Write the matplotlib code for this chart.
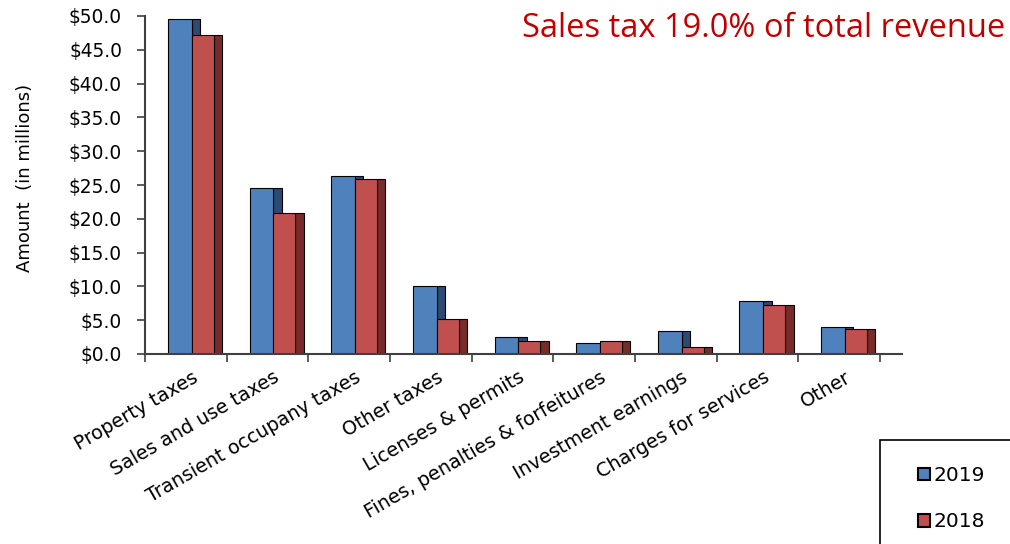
"""Revenue by source, 2019 vs 2018, drawn as faux-3D bars."""

import matplotlib.pyplot as plt
from matplotlib.patches import Rectangle, Patch
from matplotlib.ticker import FuncFormatter

categories = ['Property taxes', 'Sales and use taxes', 'Transient occupany taxes',
              'Other taxes', 'Licenses & permits', 'Fines, penalties & forfeitures',
              'Investment earnings', 'Charges for services', 'Other']
values_2019 = [49.6, 24.6, 26.3, 10.0, 2.5, 1.6, 3.4, 7.8, 4.0]
values_2018 = [47.2, 20.8, 25.9, 5.2, 1.9, 1.9, 1.1, 7.2, 3.7]
y_ticks = [0, 5, 10, 15, 20, 25, 30, 35, 40, 45, 50]

blue, blue_side = '#4F81BD', '#2D4A70'
red, red_side = '#C0504D', '#772C2A'

# DejaVu is a bit wider than Arial, which suits the horizontally stretched reference text
plt.rcParams['font.family'] = ['DejaVu Sans']

fig = plt.figure(figsize=(10.10, 5.44), dpi=100)
ax = fig.add_axes([145 / 1010, 1 - 354 / 544, 757 / 1010, 338 / 544])

# bar geometry inside each category slot (slot width = 1)
w = 0.29
depth = 0.105
for i, (v19, v18) in enumerate(zip(values_2019, values_2018)):
    x19 = i + 0.28
    x18 = x19 + w
    # side faces first, front faces on top
    ax.add_patch(Rectangle((x19 + w, 0), depth, v19, facecolor=blue_side, edgecolor='black', lw=0.8))
    ax.add_patch(Rectangle((x19, 0), w, v19, facecolor=blue, edgecolor='black', lw=0.8))
    ax.add_patch(Rectangle((x18 + w - 0.02, 0), depth, v18, facecolor=red_side, edgecolor='black', lw=0.8))
    ax.add_patch(Rectangle((x18, 0), w - 0.02, v18, facecolor=red, edgecolor='black', lw=0.8))

ax.set_xlim(0, 9.27)
ax.set_ylim(0, 50)

ax.set_yticks(y_ticks)
ax.yaxis.set_major_formatter(FuncFormatter(lambda v, p: f'${v:.1f}'))
ax.set_xticks(range(len(categories) + 1))
ax.set_xticklabels([])
ax.tick_params(axis='both', direction='out', length=5.5, width=1.2, color='#404040', labelsize=13.4)
ax.tick_params(axis='y', pad=11)

for sp in ['top', 'right']:
    ax.spines[sp].set_visible(False)
for sp in ['left', 'bottom']:
    ax.spines[sp].set_color('#404040')
    ax.spines[sp].set_linewidth(1.5)

# rotated category labels, anchored at slot centres
for i, cat in enumerate(categories):
    ax.annotate(cat, xy=(i + 0.5, 0), xytext=(4, -10), textcoords='offset points',
                rotation=30, rotation_mode='anchor', ha='right', va='top', fontsize=13.8)

ax.set_ylabel('Amount  (in millions)', fontsize=13)
ax.yaxis.set_label_coords(-0.146, 0.52)

fig.text(0.995, 1 - 37 / 544, 'Sales tax 19.0% of total revenue', color='#C00000',
         fontsize=23.5, family=['Open Sans', 'DejaVu Sans'], ha='right', va='baseline')

# legend box runs off the bottom-right edge of the figure
fig.patches.append(Rectangle((880 / 1010, -0.1), 0.2, 0.1 + 104 / 544, transform=fig.transFigure,
                             facecolor='white', edgecolor='black', lw=1.2, clip_on=False))
handles = [Patch(facecolor=blue, edgecolor='black', lw=1.5, label='2019'),
           Patch(facecolor=red, edgecolor='black', lw=1.5, label='2018')]
fig.legend(handles=handles, loc='upper left', bbox_to_anchor=(908 / 1010, 1 - 456 / 544),
           frameon=False, fontsize=14.5, handlelength=0.6, handleheight=0.6,
           handletextpad=0.15, labelspacing=1.35, borderpad=0)

fig.savefig('out.png', dpi=100)
